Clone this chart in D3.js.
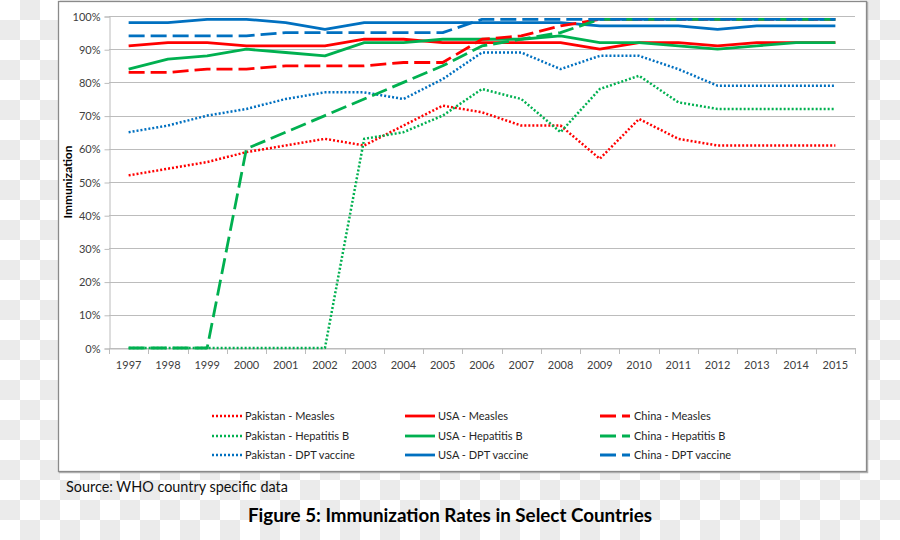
<!DOCTYPE html>
<html>
<head>
<meta charset="utf-8">
<script src="https://cdn.jsdelivr.net/npm/d3@7"></script>
<style>
html,body{margin:0;padding:0;background:#fff;}
svg{display:block;}
text{font-family:Lato,"Open Sans",sans-serif;}
</style>
</head>
<body>
<script>
const years = ["1997","1998","1999","2000","2001","2002","2003","2004","2005","2006","2007","2008","2009","2010","2011","2012","2013","2014","2015"];
const pakMeasles   = [52,54,56,59,61,63,61,67,73,71,67,67,57,69,63,61,61,61,61];
const pakHepB      = [0,0,0,0,0,0,63,65,70,78,75,65,78,82,74,72,72,72,72];
const pakDPT       = [65,67,70,72,75,77,77,75,81,89,89,84,88,88,84,79,79,79,79];
const usaMeasles   = [91,92,92,91,91,91,93,93,92,92,92,92,90,92,92,91,92,92,92];
const usaHepB      = [84,87,88,90,89,88,92,92,93,93,93,94,92,92,91,90,91,92,92];
const usaDPT       = [98,98,99,99,98,96,98,98,98,98,98,98,97,97,97,96,97,97,97];
const chinaMeasles = [83,83,84,84,85,85,85,86,86,93,94,97,99,99,99,99,99,99,99];
const chinaHepB    = [0,0,0,60,65,70,75,80,85,91,93,95,99,99,99,99,99,99,99];
const chinaDPT     = [94,94,94,94,95,95,95,95,95,99,99,99,99,99,99,99,99,99,99];
const yTicks = [0,10,20,30,40,50,60,70,80,90,100];
const seriesNames = ["Pakistan - Measles","Pakistan - Hepatitis B","Pakistan - DPT vaccine",
                     "USA - Measles","USA - Hepatitis B","USA - DPT vaccine",
                     "China - Measles","China - Hepatitis B","China - DPT vaccine"];

const RED="#ff0000", GREEN="#00b050", BLUE="#0070c0";
const series = [
  {name:seriesNames[0], values:pakMeasles,   color:RED,   style:"dot"},
  {name:seriesNames[1], values:pakHepB,      color:GREEN, style:"dot"},
  {name:seriesNames[2], values:pakDPT,       color:BLUE,  style:"dot"},
  {name:seriesNames[3], values:usaMeasles,   color:RED,   style:"solid"},
  {name:seriesNames[4], values:usaHepB,      color:GREEN, style:"solid"},
  {name:seriesNames[5], values:usaDPT,       color:BLUE,  style:"solid"},
  {name:seriesNames[6], values:chinaMeasles, color:RED,   style:"dash"},
  {name:seriesNames[7], values:chinaHepB,    color:GREEN, style:"dash"},
  {name:seriesNames[8], values:chinaDPT,     color:BLUE,  style:"dash"}
];
const dashFor = {dot:"2 2", solid:null, dash:"16 6"};
const widthFor = {dot:2.5, solid:2.8, dash:2.8};

const W=900,H=540;
const svg = d3.select("body").append("svg").attr("width",W).attr("height",H);

// checkerboard background
const defs = svg.append("defs");
const pat = defs.append("pattern").attr("id","checker").attr("width",40).attr("height",40)
  .attr("patternUnits","userSpaceOnUse");
pat.append("rect").attr("width",40).attr("height",40).attr("fill","#ffffff");
pat.append("rect").attr("x",20).attr("y",0).attr("width",20).attr("height",20).attr("fill","#ebebeb");
pat.append("rect").attr("x",0).attr("y",20).attr("width",20).attr("height",20).attr("fill","#ebebeb");
svg.append("rect").attr("width",W).attr("height",H).attr("fill","url(#checker)");

// frame
svg.append("rect").attr("x",59.5).attr("y",2.5).attr("width",808).attr("height",470)
  .attr("fill","none").attr("stroke","#b5b5b5").attr("stroke-width",1.5);
svg.append("rect").attr("x",58.5).attr("y",1.5).attr("width",808).attr("height",470)
  .attr("fill","#fff").attr("stroke","#8a8a8a").attr("stroke-width",1.3);

const x = d3.scaleBand().domain(years).range([109,855]);
const y = d3.scaleLinear().domain([0,100]).range([348,16]);

// gridlines
svg.append("g").selectAll("line").data(yTicks).join("line")
  .attr("x1",109).attr("x2",855)
  .attr("y1",d=>Math.round(y(d))+0.5).attr("y2",d=>Math.round(y(d))+0.5)
  .attr("stroke","#bcbcbc").attr("stroke-width",1);

// y axis
const yAxis = d3.axisLeft(y).tickValues(yTicks).tickFormat(d=>d+"%").tickSize(5).tickPadding(4);
const gy = svg.append("g").attr("transform","translate(109.5,0.5)").call(yAxis);
gy.select(".domain").attr("stroke","#bcbcbc");
gy.selectAll(".tick line").attr("stroke","#bcbcbc");
gy.selectAll("text").attr("fill","#404040").style("font-size","11px").attr("font-family","Lato");

// x axis
const xAxis = d3.axisBottom(x).tickSize(0).tickPadding(13);
const gx = svg.append("g").attr("transform","translate(0,348.5)").call(xAxis);
gx.select(".domain").attr("stroke","#bcbcbc");
gx.selectAll("text").attr("fill","#404040").style("font-size","11px").attr("font-family","Lato");
// tick marks at category boundaries
const bounds = years.map(d=>x(d)).concat([x(years[years.length-1])+x.bandwidth()]);
svg.append("g").selectAll("line").data(bounds).join("line")
  .attr("x1",d=>Math.round(d)+0.5).attr("x2",d=>Math.round(d)+0.5)
  .attr("y1",348).attr("y2",354).attr("stroke","#bcbcbc");

// axis title
svg.append("text").attr("transform","translate(72,182) rotate(-90)")
  .attr("text-anchor","middle").attr("font-weight","bold").style("font-size","12px")
  .attr("fill","#000").text("Immunization");

// lines
const line = d3.line().x((d,i)=>x(years[i])+x.bandwidth()/2).y(d=>y(d));
svg.append("g").selectAll("path").data(series).join("path")
  .attr("d",d=>line(d.values))
  .attr("fill","none")
  .attr("stroke",d=>d.color)
  .attr("stroke-width",d=>widthFor[d.style])
  .attr("stroke-dasharray",d=>dashFor[d.style])
  .attr("stroke-linejoin","round");

// legend
const legX = [212,405,600], legTX=[245,438,634], legY=[416,436,455];
const leg = svg.append("g");
series.forEach((s,i)=>{
  const col = Math.floor(i/3), row = i%3;
  leg.append("line").attr("x1",legX[col]).attr("x2",legX[col]+30)
    .attr("y1",legY[row]).attr("y2",legY[row])
    .attr("stroke",s.color).attr("stroke-width",widthFor[s.style])
    .attr("stroke-dasharray",dashFor[s.style]);
  leg.append("text").attr("x",legTX[col]).attr("y",legY[row]).attr("dy","0.35em")
    .style("font-size","11px").attr("fill","#262626").text(s.name);
});

// source and title
svg.append("text").attr("x",66).attr("y",492).style("font-size","14.4px").attr("fill","#111")
  .text("Source: WHO country specific data");
svg.append("text").attr("x",450).attr("y",522).attr("text-anchor","middle")
  .attr("font-weight","bold").style("font-size","18.8px").attr("fill","#000")
  .text("Figure 5: Immunization Rates in Select Countries");
</script>
</body>
</html>
